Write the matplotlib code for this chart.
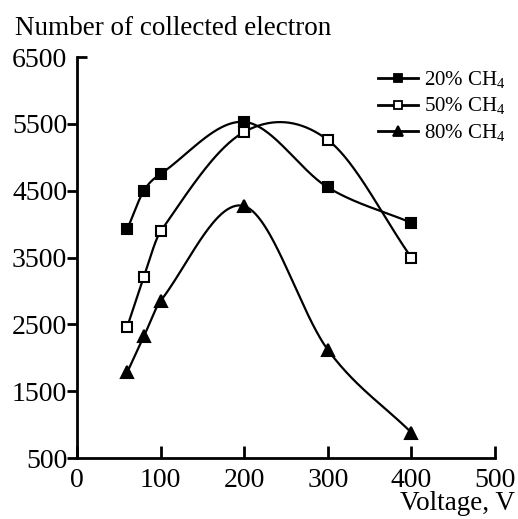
import numpy as np
import matplotlib
matplotlib.use("Agg")
import matplotlib.pyplot as plt
from matplotlib import lines as mlines

voltage = [60, 80, 100, 200, 300, 400]
ch4_20 = [3920, 4500, 4750, 5530, 4550, 4020]
ch4_50 = [2460, 3210, 3890, 5380, 5260, 3500]
ch4_80 = [1780, 2320, 2850, 4270, 2120, 880]
labels = ["20% CH$_4$", "50% CH$_4$", "80% CH$_4$"]
xticks = [0, 100, 200, 300, 400, 500]
yticks = [500, 1500, 2500, 3500, 4500, 5500, 6500]


def hermite_smooth(x, y, n=60):
    x = np.asarray(x, float)
    y = np.asarray(y, float)
    m = len(x)
    d = np.empty(m)
    d[0] = (y[1] - y[0]) / (x[1] - x[0])
    d[-1] = (y[-1] - y[-2]) / (x[-1] - x[-2])
    for i in range(1, m - 1):
        d[i] = (y[i + 1] - y[i - 1]) / (x[i + 1] - x[i - 1])
    xs_all, ys_all = [], []
    for i in range(m - 1):
        h = x[i + 1] - x[i]
        t = np.linspace(0, 1, n)
        h00 = 2 * t**3 - 3 * t**2 + 1
        h10 = t**3 - 2 * t**2 + t
        h01 = -2 * t**3 + 3 * t**2
        h11 = t**3 - t**2
        xs_all.append(x[i] + t * h)
        ys_all.append(h00 * y[i] + h10 * h * d[i] + h01 * y[i + 1] + h11 * h * d[i + 1])
    return np.concatenate(xs_all), np.concatenate(ys_all)


plt.rcParams["font.family"] = ["Liberation Serif", "DejaVu Serif"]
plt.rcParams["mathtext.fontset"] = "custom"
plt.rcParams["mathtext.rm"] = "Liberation Serif"

fig = plt.figure(figsize=(5.18, 5.19), dpi=100)
ax = fig.add_axes([0.1486, 0.1175, 0.807, 0.7725])

series = [ch4_20, ch4_50, ch4_80]
markers = ["s", "s", "^"]
faces = ["black", "white", "black"]
for vals, mk, fc, lab in zip(series, markers, faces, labels):
    xs, ys = hermite_smooth(voltage, vals)
    ax.plot(xs, ys, color="black", lw=1.6, zorder=2)
    ax.plot(voltage, vals, linestyle="none", marker=mk, ms=7 if mk == "s" else 8.5,
            mfc=fc, mec="black", mew=1.5, zorder=3)
    ax.plot([], [], color="black", lw=2, marker=mk, ms=6 if mk == "s" else 7,
            mfc=fc, mec="black", mew=1.3, label=lab)

ax.set_xlim(0, 500)
ax.set_ylim(500, 6500)
ax.set_xticks(xticks)
ax.set_yticks(yticks)
ax.spines["top"].set_visible(False)
ax.spines["right"].set_visible(False)
for s in ["left", "bottom"]:
    ax.spines[s].set_linewidth(2)
ax.tick_params(axis="x", direction="in", length=9, width=2, labelsize=20, pad=7)
ax.tick_params(axis="y", direction="out", length=7, width=2, labelsize=20, pad=0)
# top y tick points inward
ax.yaxis.get_major_ticks()[-1].tick1line.set_marker(mlines.TICKRIGHT)

leg = ax.legend(loc="upper right", bbox_to_anchor=(1.07, 1.017), frameon=False,
                fontsize=15, handlelength=1.9, handletextpad=0.3, labelspacing=0.25)

fig.text(0.029, 0.946, "Number of collected electron", fontsize=19.5, va="center", ha="left")
fig.text(0.995, 0.005, "Voltage, V", fontsize=19.5, va="bottom", ha="right")

fig.savefig("out.png", dpi=100)
